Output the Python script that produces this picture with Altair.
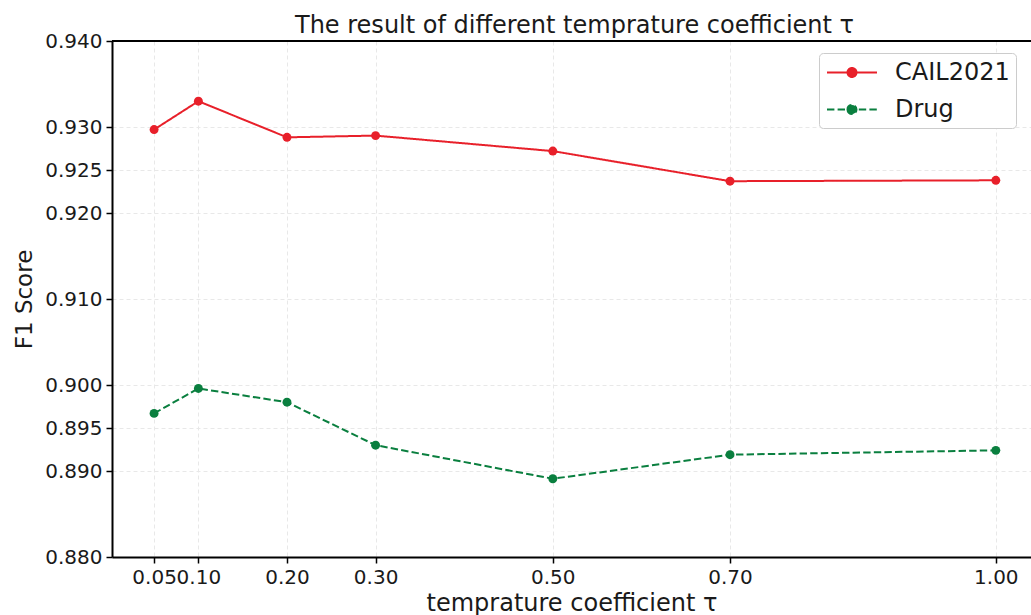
import altair as alt
import pandas as pd

# ---- data ----
tau = [0.05, 0.10, 0.20, 0.30, 0.50, 0.70, 1.00]
cail2021 = [0.9297, 0.9330, 0.9288, 0.9290, 0.9272, 0.9237, 0.9238]
drug = [0.8967, 0.8996, 0.8980, 0.8930, 0.8891, 0.8919, 0.8924]
series_names = ["CAIL2021", "Drug"]
x_ticks = [0.05, 0.10, 0.20, 0.30, 0.50, 0.70, 1.00]
y_ticks = [0.880, 0.890, 0.895, 0.900, 0.910, 0.920, 0.925, 0.930, 0.940]
colors = ["#e8202a", "#0a7f3f"]
dashes = [[1, 0], [7.4, 3.2]]

df = pd.DataFrame({
    "tau": tau + tau,
    "f1": cail2021 + drug,
    "series": [series_names[0]] * len(tau) + [series_names[1]] * len(tau),
})

W, H = 919, 516
FONT = "DejaVu Sans"
TXT = "#1a1a1a"

# legend symbol: a line with a filled circle marker
sym = ("M-0.92,0L3.08,0"
       "M0.72,0A0.36,0.36,0,1,0,1.44,0A0.36,0.36,0,1,0,0.72,0Z")

legend = alt.Legend(
    title=None, orient="none", legendX=707, legendY=12,
    labelFontSize=24, labelFont=FONT, labelColor=TXT, labelLimit=0,
    symbolType=sym, symbolSize=625, symbolStrokeWidth=2, symbolOpacity=1,
    labelOffset=43, padding=6, rowPadding=11,
    strokeColor="#cccccc", fillColor="white", cornerRadius=4,
)

x_enc = alt.X("tau:Q",
              scale=alt.Scale(domain=[0.0025, 1.0397], nice=False, zero=False),
              axis=alt.Axis(values=x_ticks, format=".2f",
                            title="temprature coefficient τ",
                            titleFontSize=24, titlePadding=4,
                            labelOverlap=False, labelBound=False,
                            labelFlush=False))
y_enc = alt.Y("f1:Q",
              scale=alt.Scale(domain=[0.88, 0.94], nice=False, zero=False),
              axis=alt.Axis(values=y_ticks, format=".3f", title="F1 Score",
                            titleFontSize=23, titlePadding=8,
                            labelOverlap=False, labelFlush=False))
color_enc = alt.Color("series:N",
                      scale=alt.Scale(domain=series_names, range=colors),
                      legend=legend)
dash_enc = alt.StrokeDash("series:N",
                          scale=alt.Scale(domain=series_names, range=dashes),
                          legend=legend)

base = alt.Chart(df)
lines = base.mark_line(strokeWidth=2).encode(
    x=x_enc, y=y_enc, color=color_enc, strokeDash=dash_enc)
points = base.mark_point(filled=True, size=80, opacity=1).encode(
    x=x_enc, y=y_enc, color=color_enc)

top_spine = alt.Chart(pd.DataFrame({"s": [0]})).mark_rule(
    color="black", strokeWidth=2).encode(
    x=alt.value(0), x2=alt.value(W), y=alt.value(0))

chart = alt.layer(lines, points, top_spine).properties(
    width=W, height=H,
    autosize="none",
    background="white",
    padding={"left": 112, "top": 41, "right": 0, "bottom": 58},
    title=alt.TitleParams(
        "The result of different temprature coefficient τ",
        fontSize=24, font=FONT, fontWeight="normal", color=TXT,
        anchor="middle", baseline="alphabetic", offset=0, dx=3, dy=26),
).configure_view(stroke=None).configure_axis(
    labelFont=FONT, titleFont=FONT, labelFontSize=20,
    labelColor=TXT, titleColor=TXT, titleFontWeight="normal",
    domainColor="black", domainWidth=2,
    tickColor="black", tickWidth=1.5, tickSize=6, labelPadding=4,
    grid=True, gridColor="#e8e8e8", gridDash=[4, 3], gridWidth=1,
)

chart.save("out.html", embed_options={"renderer": "svg", "actions": False})
